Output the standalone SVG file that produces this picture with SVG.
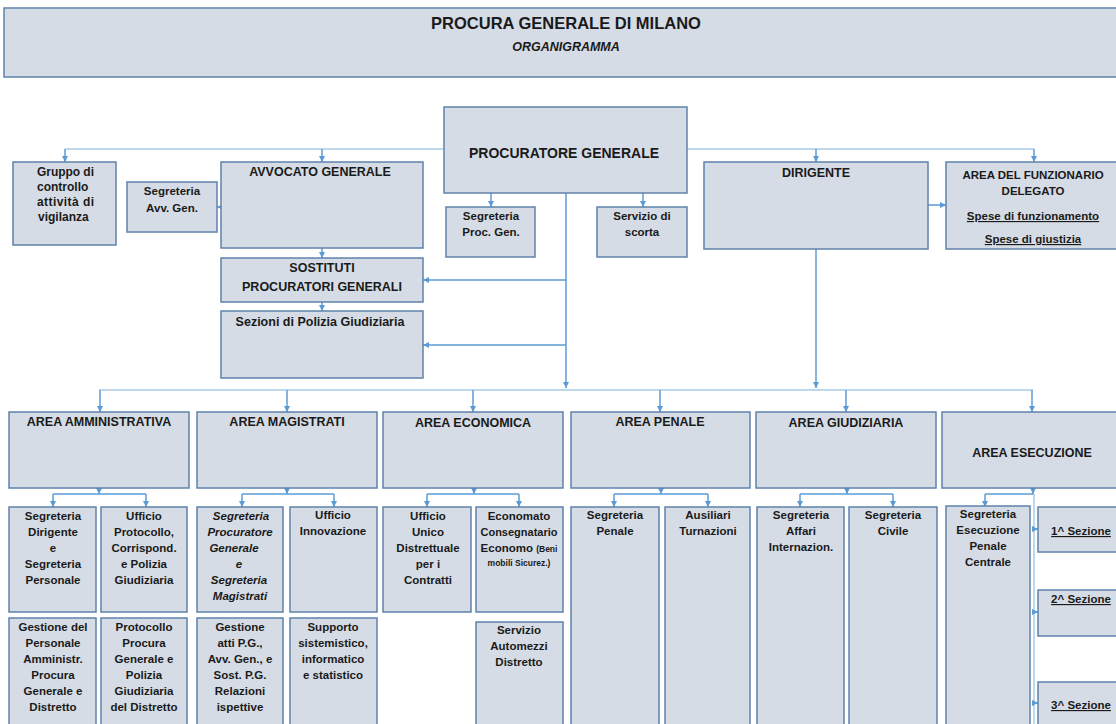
<svg xmlns="http://www.w3.org/2000/svg" width="1116" height="724" viewBox="0 0 1116 724">
<defs>
<marker id="ah" viewBox="0 0 10 10" refX="10" refY="5" markerWidth="6" markerHeight="6" markerUnits="userSpaceOnUse" orient="auto"><path d="M0,0 L10,5 L0,10 z" fill="#5b9bd5"/></marker>
<style>
.b{fill:#d6dce5;stroke:#5f82aa;stroke-width:1.5}
text{font-family:"Liberation Sans",Arial,sans-serif;font-weight:bold;fill:#1a1a1a;text-anchor:middle;font-size:11.5px}
.t{font-size:12.5px}
.h{font-size:14px}
.i{font-style:italic}
.u{text-decoration:underline}
.l{text-anchor:start}
.c{fill:none;stroke:#5b9bd5;stroke-width:1.5}
.cl{fill:none;stroke:#a9cbe9;stroke-width:1.5}
.a{marker-end:url(#ah)}
</style>
</defs>
<g id="title"><rect class="b" x="4" y="8" width="1125" height="69"/>
<text x="566" y="29" style="font-size:16.5px">PROCURA GENERALE DI MILANO</text>
<text x="566" y="51" class="i" style="font-size:12.5px">ORGANIGRAMMA</text></g>

<g id="connectors">
<path class="cl" d="M65,149 H444 M687,149 H1034"/>
<path class="c a" d="M65,149 V162"/><path class="c a" d="M322,149 V162"/><path class="c a" d="M816,149 V162"/><path class="c a" d="M1034,149 V162"/>
<path class="c a" d="M221,207 H217"/>
<path class="c a" d="M322,248 V258"/><path class="c a" d="M322,302 V311"/>
<path class="c a" d="M491,193 V207"/><path class="c a" d="M643,193 V207"/>
<path class="c a" d="M566,193 V388"/>
<path class="c a" d="M566,280 H423"/><path class="c a" d="M566,345 H423"/>
<path class="c a" d="M928,205 H946"/>
<path class="c a" d="M816,249 V388"/>
<path class="cl" d="M99,390 H1033"/>
<path class="c a" d="M100,390 V412"/><path class="c a" d="M287,390 V412"/><path class="c a" d="M473,390 V412"/><path class="c a" d="M660,390 V412"/><path class="c a" d="M846,390 V412"/><path class="c a" d="M1032,390 V412"/>
<path class="c a" d="M99,488 V494"/><path class="c" d="M53,494 H146"/><path class="c a" d="M53,494 V507"/><path class="c a" d="M146,494 V507"/>
<path class="c a" d="M287,488 V494"/><path class="c" d="M242,494 H334"/><path class="c a" d="M242,494 V507"/><path class="c a" d="M334,494 V507"/>
<path class="c a" d="M474,488 V494"/><path class="c" d="M427,494 H519"/><path class="c a" d="M427,494 V507"/><path class="c a" d="M519,494 V507"/>
<path class="c a" d="M661,488 V494"/><path class="c" d="M614,494 H708"/><path class="c a" d="M614,494 V507"/><path class="c a" d="M708,494 V507"/>
<path class="c a" d="M847,488 V494"/><path class="c" d="M800,494 H893"/><path class="c a" d="M800,494 V507"/><path class="c a" d="M893,494 V507"/>
<path class="c a" d="M1033,488 V494"/><path class="c" d="M985,494 H1034"/><path class="c a" d="M985,494 V507"/>
<path class="cl" d="M1034,494 V724"/>
<path class="c a" d="M1034,529 H1038"/><path class="c a" d="M1034,612 H1038"/><path class="c a" d="M1034,703 H1038"/>
</g>

<g id="gruppo"><rect class="b" x="13" y="162" width="103" height="83"/>
<text class="l" x="37" y="176" textLength="57" lengthAdjust="spacing" style="font-size:12px">Gruppo di</text>
<text class="l" x="37" y="191" style="font-size:12px">controllo</text>
<text class="l" x="37" y="206" textLength="57" lengthAdjust="spacing" style="font-size:12px">attività di</text>
<text class="l" x="38" y="221" style="font-size:12px">vigilanza</text></g>

<g id="segr-avv"><rect class="b" x="127" y="182" width="90" height="50"/>
<text x="172" y="195">Segreteria</text><text x="172" y="212">Avv. Gen.</text></g>

<g id="avvocato"><rect class="b" x="221" y="162" width="202" height="86"/>
<text class="t" x="320" y="176">AVVOCATO GENERALE</text></g>

<g id="sostituti"><rect class="b" x="221" y="258" width="202" height="44"/>
<text class="t" x="322" y="272">SOSTITUTI</text><text class="t" x="322" y="291">PROCURATORI GENERALI</text></g>

<g id="sezioni-pg"><rect class="b" x="221" y="311" width="202" height="67"/>
<text class="t" x="320" y="326">Sezioni di Polizia Giudiziaria</text></g>

<g id="procuratore"><rect class="b" x="444" y="107" width="243" height="86"/>
<text class="h" x="564" y="158">PROCURATORE GENERALE</text></g>

<g id="segr-pg"><rect class="b" x="446" y="207" width="89" height="50"/>
<text x="491" y="220">Segreteria</text><text x="491" y="236">Proc. Gen.</text></g>

<g id="scorta"><rect class="b" x="597" y="207" width="90" height="50"/>
<text x="642" y="220">Servizio di</text><text x="642" y="236">scorta</text></g>

<g id="dirigente"><rect class="b" x="704" y="162" width="224" height="87"/>
<text class="t" x="816" y="177">DIRIGENTE</text></g>

<g id="funzionario"><rect class="b" x="946" y="162" width="180" height="87"/>
<text x="1033" y="179">AREA DEL FUNZIONARIO</text><text x="1033" y="195">DELEGATO</text>
<text class="u" x="1033" y="220">Spese di funzionamento </text><text class="u" x="1033" y="243">Spese di giustizia</text></g>

<g id="area-amm"><rect class="b" x="9" y="412" width="180" height="76"/><text class="t" x="99" y="426">AREA AMMINISTRATIVA</text></g>
<g id="area-mag"><rect class="b" x="197" y="412" width="180" height="76"/><text class="t" x="287" y="426">AREA MAGISTRATI</text></g>
<g id="area-eco"><rect class="b" x="383" y="412" width="180" height="76"/><text class="t" x="473" y="427">AREA ECONOMICA</text></g>
<g id="area-pen"><rect class="b" x="571" y="412" width="179" height="76"/><text class="t" x="660" y="426">AREA PENALE</text></g>
<g id="area-giu"><rect class="b" x="756" y="412" width="180" height="76"/><text class="t" x="846" y="427">AREA GIUDIZIARIA</text></g>
<g id="area-ese"><rect class="b" x="942" y="412" width="185" height="76"/><text class="t" x="1032" y="457">AREA ESECUZIONE</text></g>

<g id="segr-dir"><rect class="b" x="9" y="507" width="87" height="105"/>
<text x="53" y="520">Segreteria</text><text x="53" y="536">Dirigente</text><text x="53" y="552">e</text><text x="53" y="568">Segreteria</text><text x="53" y="584">Personale</text></g>
<g id="uff-prot"><rect class="b" x="101" y="507" width="86" height="105"/>
<text x="144" y="520">Ufficio</text><text x="144" y="536">Protocollo,</text><text x="144" y="552">Corrispond.</text><text x="144" y="568">e Polizia</text><text x="144" y="584">Giudiziaria</text></g>
<g id="segr-pg-mag"><rect class="b" x="197" y="507" width="86" height="105"/>
<text class="i" x="241" y="520">Segreteria</text><text class="i" x="240" y="536">Procuratore</text><text class="i" x="234" y="552">Generale</text><text class="i" x="239" y="568">e</text><text class="i" x="239" y="584">Segreteria</text><text class="i" x="240" y="600">Magistrati</text></g>
<g id="uff-innov"><rect class="b" x="290" y="507" width="87" height="105"/>
<text x="333" y="519">Ufficio</text><text x="333" y="535">Innovazione</text></g>
<g id="uff-contratti"><rect class="b" x="383" y="507" width="88" height="105"/>
<text x="428" y="520">Ufficio</text><text x="428" y="536">Unico</text><text x="428" y="552">Distrettuale</text><text x="428" y="568">per i</text><text x="428" y="584">Contratti</text></g>
<g id="economato"><rect class="b" x="476" y="507" width="87" height="105"/>
<text x="519" y="520">Economato</text><text x="519" y="536" style="font-size:11px">Consegnatario</text><text x="519" y="552">Economo <tspan style="font-size:8.5px">(Beni</tspan></text><text x="519" y="566" style="font-size:8.5px">mobili Sicurez.)</text></g>
<g id="automezzi"><rect class="b" x="476" y="622" width="87" height="110"/>
<text x="519" y="634">Servizio</text><text x="519" y="650">Automezzi</text><text x="519" y="666">Distretto</text></g>
<g id="segr-penale"><rect class="b" x="571" y="507" width="88" height="225"/>
<text x="615" y="519">Segreteria</text><text x="615" y="535">Penale</text></g>
<g id="ausiliari"><rect class="b" x="665" y="507" width="85" height="225"/>
<text x="708" y="519">Ausiliari</text><text x="708" y="535">Turnazioni</text></g>
<g id="segr-affari"><rect class="b" x="757" y="507" width="87" height="225"/>
<text x="801" y="519">Segreteria</text><text x="801" y="535">Affari</text><text x="801" y="551">Internazion.</text></g>
<g id="segr-civile"><rect class="b" x="849" y="507" width="88" height="225"/>
<text x="893" y="519">Segreteria</text><text x="893" y="535">Civile</text></g>
<g id="segr-esec"><rect class="b" x="946" y="506" width="84" height="226"/>
<text x="988" y="518">Segreteria</text><text x="988" y="534">Esecuzione</text><text x="988" y="550">Penale</text><text x="988" y="566">Centrale</text></g>
<g id="sez1"><rect class="b" x="1038" y="507" width="90" height="45"/><text class="u" x="1081" y="535">1^ Sezione</text></g>
<g id="sez2"><rect class="b" x="1038" y="590" width="90" height="46"/><text class="u" x="1081" y="603">2^ Sezione</text></g>
<g id="sez3"><rect class="b" x="1038" y="682" width="90" height="50"/><text class="u" x="1081" y="709">3^ Sezione</text></g>

<g id="gest-pers"><rect class="b" x="9" y="618" width="87" height="114"/>
<text x="53" y="631">Gestione del</text><text x="53" y="647">Personale</text><text x="53" y="663">Amministr.</text><text x="53" y="679">Procura</text><text x="53" y="695">Generale  e</text><text x="53" y="711">Distretto</text></g>
<g id="protocollo"><rect class="b" x="101" y="618" width="86" height="114"/>
<text x="144" y="631">Protocollo</text><text x="144" y="647">Procura</text><text x="144" y="663">Generale e</text><text x="144" y="679">Polizia</text><text x="144" y="695">Giudiziaria</text><text x="144" y="711">del Distretto</text></g>
<g id="gest-atti"><rect class="b" x="197" y="618" width="86" height="114"/>
<text x="240" y="631">Gestione</text><text x="240" y="647">atti P.G.,</text><text x="240" y="663">Avv. Gen., e</text><text x="240" y="679">Sost. P.G.</text><text x="240" y="695">Relazioni</text><text x="240" y="711">ispettive</text></g>
<g id="supporto"><rect class="b" x="290" y="618" width="87" height="114"/>
<text x="333" y="631">Supporto</text><text x="333" y="647">sistemistico,</text><text x="333" y="663">informatico</text><text x="333" y="679">e statistico</text></g>
</svg>
